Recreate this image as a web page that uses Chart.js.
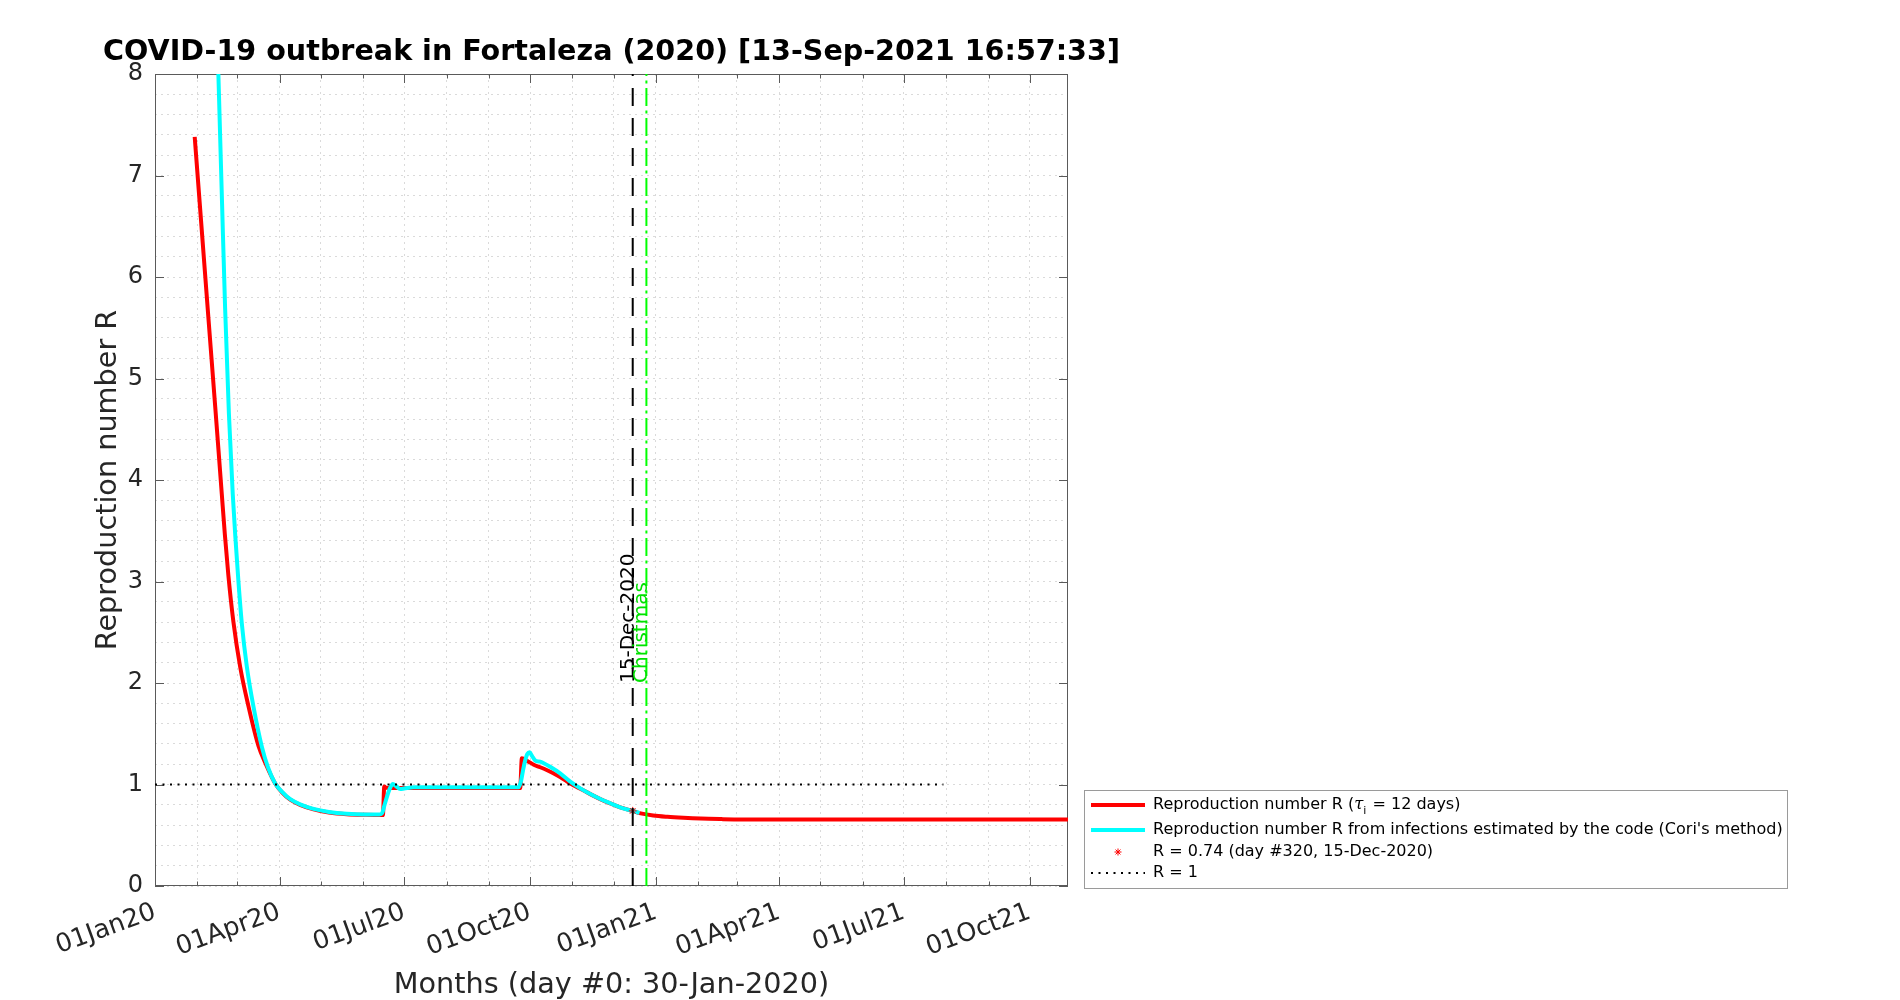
<!DOCTYPE html>
<html>
<head>
<meta charset="utf-8">
<title>COVID-19 outbreak in Fortaleza (2020)</title>
<script src="https://cdn.jsdelivr.net/npm/chart.js@4.4.0/dist/chart.umd.min.js"></script>
<style>
  html, body { margin: 0; padding: 0; background: #fff; }
  canvas { display: block; }
</style>
</head>
<body>
<canvas id="chart" width="1900" height="1000"></canvas>
<script>
// all days are counted from day #0 = 30-Jan-2020
const redDays = [0, 5, 10, 15, 19.8, 22, 24.6, 28.3, 33.2, 39.3, 46.6, 52, 58.8, 64, 69.8, 77, 86.8, 98, 111, 125, 137.5,
  138.5, 140, 150, 200, 237.8, 239, 243, 247.7, 252.4, 257.5, 262, 267.3, 272, 277, 281.7, 289, 296.3, 303.6, 310.9, 320,
  325.8, 335, 345.3, 357, 369.7, 385, 400, 450, 550, 638];
const redR = [7.38, 6.49, 5.60, 4.72, 3.86, 3.47, 3.06, 2.60, 2.16, 1.77, 1.38, 1.20, 1.01, 0.92, 0.85, 0.80, 0.755, 0.725, 0.708, 0.702, 0.700,
  0.98, 0.968, 0.965, 0.965, 0.965, 1.258, 1.232, 1.195, 1.17, 1.14, 1.11, 1.07, 1.03, 0.99, 0.958, 0.905, 0.856, 0.814, 0.775, 0.739,
  0.716, 0.695, 0.682, 0.672, 0.664, 0.659, 0.656, 0.655, 0.655, 0.655];

const coriDays = [14, 17.3, 20, 22.2, 25, 27.8, 29.7, 31.9, 34.4, 38.1, 42.9, 49.1, 53.5, 58.8, 64, 69.8, 77, 86.8, 98, 111, 125, 135,
  137, 138.5, 140.5, 142.5, 144.8, 147, 150.2, 153, 160, 200, 236.6, 238.5, 240, 241.5, 243, 244.7, 246.5, 248.8, 250.5, 252.4, 255,
  259.7, 267, 274.4, 281.7, 289, 296.3, 303.6, 310.9, 320, 325];
const coriR = [9.65, 8.0, 6.72, 5.70, 4.65, 3.86, 3.44, 3.01, 2.59, 2.16, 1.77, 1.37, 1.17, 1.01, 0.925, 0.855, 0.805, 0.76, 0.73, 0.712, 0.705, 0.705,
  0.72, 0.79, 0.88, 0.96, 1.005, 0.985, 0.955, 0.96, 0.972, 0.972, 0.972, 1.04, 1.15, 1.24, 1.30, 1.317, 1.28, 1.236, 1.228, 1.225, 1.21,
  1.175, 1.11, 1.028, 0.962, 0.906, 0.857, 0.815, 0.775, 0.739, 0.72];

const markDay = 320, markR = 0.74;
const refDays = [-29, 547];      // R = 1 line
const dec15Day = 320, xmasDay = 330;
const xMin = -29, xMax = 638, yMin = 0, yMax = 8;

const xTickLabels = ['01Jan20', '01Apr20', '01Jul20', '01Oct20', '01Jan21', '01Apr21', '01Jul21', '01Oct21'];
const yTickLabels = ['0', '1', '2', '3', '4', '5', '6', '7', '8'];

const FONT = "'DejaVu Sans', 'Liberation Sans', sans-serif";
const AXIS = '#5a5a5a';
const TXT = '#262626';

// month starts, as day numbers, from 01Jan20 to 01Oct21
const day0 = Date.UTC(2020, 0, 30);
let monthDays = [];
for (let m = 0; m < 22; m++) {
  monthDays.push(Math.round((Date.UTC(2020, m, 1) - day0) / 86400000));
}

function pts(xs, ys) {
  return xs.map((x, i) => ({x: x, y: ys[i]}));
}

// frame, inward ticks, text labels and legend
const decor = {
  id: 'decor',
  beforeDatasetsDraw(chart) {
    const ctx = chart.ctx, a = chart.chartArea;
    const xs = chart.scales.x, ys = chart.scales.y;
    ctx.save();
    ctx.strokeStyle = AXIS;
    ctx.lineWidth = 1;
    ctx.strokeRect(a.left + 0.5, a.top + 0.5, a.right - a.left - 1, a.bottom - a.top - 1);
    ctx.beginPath();
    monthDays.forEach((d, i) => {
      const px = Math.round(xs.getPixelForValue(d)) + 0.5;
      const len = (i % 3 === 0) ? 9 : 4.5;
      ctx.moveTo(px, a.bottom); ctx.lineTo(px, a.bottom - len);
      ctx.moveTo(px, a.top); ctx.lineTo(px, a.top + len);
    });
    for (let v = yMin; v <= yMax; v++) {
      const py = Math.round(ys.getPixelForValue(v)) + 0.5;
      ctx.moveTo(a.left, py); ctx.lineTo(a.left + 9, py);
      ctx.moveTo(a.right, py); ctx.lineTo(a.right - 9, py);
    }
    ctx.stroke();
    ctx.restore();
  },
  afterDatasetsDraw(chart) {
    const ctx = chart.ctx;
    const xs = chart.scales.x, ys = chart.scales.y;
    const y2 = ys.getPixelForValue(2);
    const marks = [[dec15Day, '15-Dec-2020', '#000'], [xmasDay, 'Christmas', '#00e000']];
    marks.forEach(m => {
      ctx.save();
      ctx.font = '20px ' + FONT;
      ctx.textAlign = 'left';
      ctx.textBaseline = 'alphabetic';
      ctx.translate(xs.getPixelForValue(m[0]) + 1, y2);
      ctx.rotate(-Math.PI / 2);
      ctx.fillStyle = m[2];
      ctx.fillText(m[1], 0, 0);
      ctx.restore();
    });
  },
  afterDraw(chart) {
    const ctx = chart.ctx, a = chart.chartArea;
    const cx = (a.left + a.right) / 2, cy = (a.top + a.bottom) / 2;
    ctx.save();
    // title
    ctx.fillStyle = '#000';
    ctx.font = 'bold 28.6px ' + FONT;
    ctx.textAlign = 'center';
    ctx.textBaseline = 'alphabetic';
    ctx.fillText('COVID-19 outbreak in Fortaleza (2020) [13-Sep-2021 16:57:33]', cx, 60);
    // axis titles
    ctx.fillStyle = TXT;
    ctx.font = '28.7px ' + FONT;
    ctx.fillText('Months (day #0: 30-Jan-2020)', cx, 993);
    ctx.save();
    ctx.translate(116, cy);
    ctx.rotate(-Math.PI / 2);
    ctx.fillText('Reproduction number R', 0, 0);
    ctx.restore();

    // legend
    const bx = 1084, by = 790, bw = 703, bh = 98;
    ctx.fillStyle = '#fff';
    ctx.fillRect(bx, by, bw, bh);
    ctx.strokeStyle = '#9a9a9a';
    ctx.lineWidth = 1;
    ctx.strokeRect(bx + 0.5, by + 0.5, bw, bh);
    const rows = [805, 830, 852, 873];
    const lx0 = 1091, lx1 = 1145, tx = 1153;
    ctx.lineCap = 'butt';
    ctx.lineWidth = 4;
    ctx.strokeStyle = '#ff0000';
    ctx.beginPath(); ctx.moveTo(lx0, rows[0]); ctx.lineTo(lx1, rows[0]); ctx.stroke();
    ctx.strokeStyle = '#00ffff';
    ctx.beginPath(); ctx.moveTo(lx0, rows[1]); ctx.lineTo(lx1, rows[1]); ctx.stroke();
    ctx.strokeStyle = '#000';
    ctx.lineWidth = 2;
    ctx.setLineDash([2, 5.5]);
    ctx.beginPath(); ctx.moveTo(lx0, rows[3]); ctx.lineTo(lx1, rows[3]); ctx.stroke();
    ctx.setLineDash([]);
    // star marker
    const sx = (lx0 + lx1) / 2, sy = rows[2], r = 3.5;
    ctx.strokeStyle = '#ff0000';
    ctx.lineWidth = 1;
    ctx.beginPath();
    ctx.moveTo(sx - r, sy); ctx.lineTo(sx + r, sy);
    ctx.moveTo(sx, sy - r); ctx.lineTo(sx, sy + r);
    ctx.moveTo(sx - r * 0.7, sy - r * 0.7); ctx.lineTo(sx + r * 0.7, sy + r * 0.7);
    ctx.moveTo(sx - r * 0.7, sy + r * 0.7); ctx.lineTo(sx + r * 0.7, sy - r * 0.7);
    ctx.stroke();

    ctx.fillStyle = '#000';
    ctx.textAlign = 'left';
    ctx.textBaseline = 'middle';
    const lf = '16px ' + FONT;
    ctx.font = lf;
    let x = tx;
    let s = 'Reproduction number R (';
    ctx.fillText(s, x, rows[0]); x += ctx.measureText(s).width;
    ctx.font = "italic 16.5px 'DejaVu Serif', serif";
    ctx.fillText('\u03c4', x, rows[0]); x += ctx.measureText('\u03c4').width;
    ctx.font = '11px ' + FONT;
    ctx.fillText('i', x, rows[0] + 6); x += ctx.measureText('i').width + 1;
    ctx.font = lf;
    ctx.fillText(' = 12 days)', x, rows[0]);
    ctx.fillText("Reproduction number R from infections estimated by the code (Cori's method)", tx, rows[1]);
    ctx.fillText('R = 0.74 (day #320, 15-Dec-2020)', tx, rows[2]);
    ctx.fillText('R = 1', tx, rows[3]);
    ctx.restore();
  }
};

Chart.defaults.font.family = FONT;

new Chart(document.getElementById('chart'), {
  type: 'line',
  data: {
    datasets: [
      {
        label: '15-Dec-2020',
        data: pts([dec15Day, dec15Day], [yMin, yMax]),
        borderColor: '#000', borderWidth: 2, borderDash: [18, 12],
        pointRadius: 0, clip: 0
      },
      {
        label: 'Christmas',
        data: pts([xmasDay, xmasDay], [yMin, yMax]),
        borderColor: '#00ff00', borderWidth: 2, borderDash: [18, 4.5, 3, 4.5],
        pointRadius: 0, clip: 0
      },
      {
        label: 'R = 1',
        data: pts(refDays, [1, 1]),
        borderColor: '#000', borderWidth: 2, borderDash: [2, 5.5],
        pointRadius: 0, clip: 0
      },
      {
        label: 'R = 0.74 (day #320, 15-Dec-2020)',
        data: pts([markDay], [markR]),
        showLine: false, pointStyle: 'star', pointRadius: 4,
        borderColor: '#ff0000', pointBorderWidth: 1
      },
      {
        label: "Reproduction number R from infections estimated by the code (Cori's method)",
        data: pts(coriDays, coriR),
        borderColor: '#00ffff', borderWidth: 4,
        pointRadius: 0, cubicInterpolationMode: 'monotone', clip: 0
      },
      {
        label: 'Reproduction number R (tau_i = 12 days)',
        data: pts(redDays, redR),
        borderColor: '#ff0000', borderWidth: 4,
        pointRadius: 0, cubicInterpolationMode: 'monotone', clip: 0
      }
    ]
  },
  options: {
    responsive: false,
    animation: false,
    devicePixelRatio: 1,
    events: [],
    layout: { padding: { left: 0, top: 74, right: 832, bottom: 0 } },
    plugins: {
      legend: { display: false },
      tooltip: { enabled: false },
      title: { display: false }
    },
    scales: {
      x: {
        type: 'linear',
        min: xMin, max: xMax,
        afterBuildTicks: (scale) => {
          scale.ticks = monthDays.map(d => ({value: d}));
        },
        afterFit: (scale) => { scale.height = 114; },
        ticks: {
          autoSkip: false,
          minRotation: 20, maxRotation: 20,
          padding: 11,
          color: TXT,
          font: { size: 25.5 },
          callback: (value, index) => (index % 3 === 0) ? xTickLabels[index / 3] : ''
        },
        grid: { color: '#dadada', lineWidth: 1, drawTicks: false },
        border: { display: false, dash: [2, 4] }
      },
      y: {
        type: 'linear',
        min: yMin, max: yMax,
        afterFit: (scale) => { scale.width = 155; },
        ticks: {
          stepSize: 0.2,
          autoSkip: false,
          padding: 12,
          color: TXT,
          font: { size: 24 },
          callback: (value) => {
            const r = Math.round(value);
            return Math.abs(value - r) < 1e-6 ? yTickLabels[r] : '';
          }
        },
        grid: { color: '#dadada', lineWidth: 1, drawTicks: false },
        border: { display: false, dash: [2, 4] }
      }
    }
  },
  plugins: [decor]
});
</script>
</body>
</html>
